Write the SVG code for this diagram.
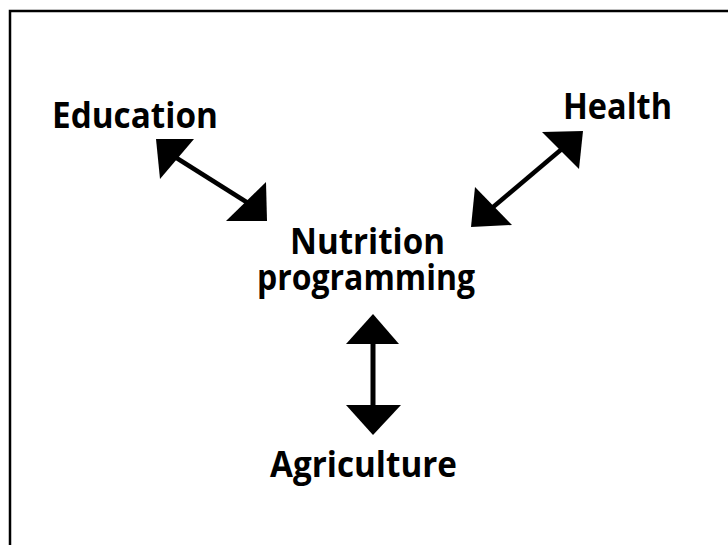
<svg xmlns="http://www.w3.org/2000/svg" width="728" height="545" viewBox="0 0 728 545">
<style>
.lbl{font-family:"Open Sans","Noto Sans","Liberation Sans",sans-serif;font-weight:700;font-size:35px;fill:#000}
.shaft{stroke:#000;stroke-width:4.5;fill:none}
.head{fill:#000;stroke:none}
</style>
<rect x="0" y="0" width="728" height="545" fill="#fff"/>
<path d="M10 545 V11 H728" fill="none" stroke="#000" stroke-width="2.5"/>
<g id="education"><text class="lbl" x="52" y="128" textLength="166" lengthAdjust="spacingAndGlyphs">Education</text></g>
<g id="health"><text class="lbl" x="563" y="119" textLength="109" lengthAdjust="spacingAndGlyphs">Health</text></g>
<g id="nutrition"><text class="lbl"><tspan x="290" y="254" textLength="155" lengthAdjust="spacingAndGlyphs">Nutrition</tspan><tspan x="257" y="290" textLength="218" lengthAdjust="spacingAndGlyphs">programming</tspan></text></g>
<g id="agriculture"><text class="lbl" x="270" y="477" textLength="187" lengthAdjust="spacingAndGlyphs">Agriculture</text></g>
<g id="connectors">
<line class="shaft" x1="175" y1="157" x2="248" y2="203"/>
<polygon class="head" points="156,139 194,139 160,179"/>
<polygon class="head" points="267,221 266,182 226,221"/>
<line class="shaft" x1="563" y1="148" x2="492" y2="208"/>
<polygon class="head" points="583,131 542,132 579,169"/>
<polygon class="head" points="471,227 475,187 512,225"/>
<line class="shaft" x1="373" y1="340" x2="373" y2="410" style="stroke-width:5"/>
<polygon class="head" points="373,314 346,344 399,344"/>
<polygon class="head" points="373,435 346,405 401,405"/>
</g>
</svg>
